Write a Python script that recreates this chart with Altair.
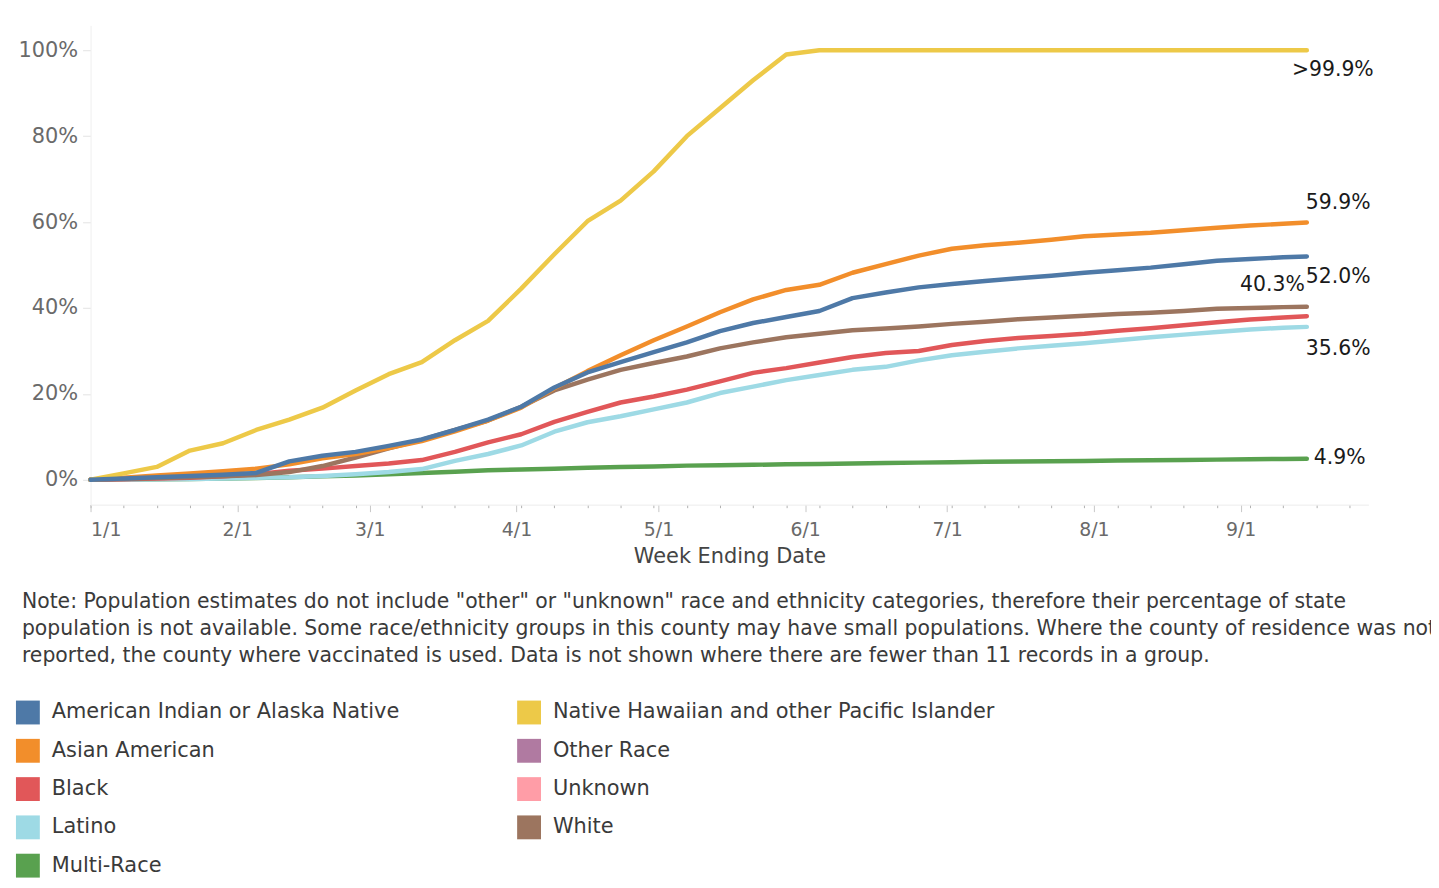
import altair as alt
import pandas as pd

# ---------------- data ----------------
dates = [
    "2021-01-01", "2021-01-08", "2021-01-15", "2021-01-22", "2021-01-29",
    "2021-02-05", "2021-02-12", "2021-02-19", "2021-02-26",
    "2021-03-05", "2021-03-12", "2021-03-19", "2021-03-26",
    "2021-04-02", "2021-04-09", "2021-04-16", "2021-04-23", "2021-04-30",
    "2021-05-07", "2021-05-14", "2021-05-21", "2021-05-28",
    "2021-06-04", "2021-06-11", "2021-06-18", "2021-06-25",
    "2021-07-02", "2021-07-09", "2021-07-16", "2021-07-23", "2021-07-30",
    "2021-08-06", "2021-08-13", "2021-08-20", "2021-08-27",
    "2021-09-03", "2021-09-10", "2021-09-15",
]

aian = [0, 0.3, 0.6, 0.9, 1.2, 1.6, 4.3, 5.6, 6.5, 7.9, 9.4, 11.6, 14.0, 17.0,
        21.5, 25.0, 27.4, 29.7, 32.0, 34.6, 36.5, 37.9, 39.3, 42.3, 43.6, 44.8,
        45.6, 46.3, 46.9, 47.5, 48.2, 48.8, 49.4, 50.2, 51.0, 51.4, 51.8, 52.0]
asian = [0, 0.5, 1.0, 1.5, 2.0, 2.6, 3.6, 5.0, 6.0, 7.4, 9.0, 11.3, 13.8, 16.8,
         21.3, 25.3, 29.0, 32.5, 35.7, 39.0, 42.0, 44.2, 45.4, 48.2, 50.2, 52.2,
         53.8, 54.6, 55.2, 55.9, 56.7, 57.1, 57.5, 58.1, 58.7, 59.2, 59.6, 59.9]
black = [0, 0.1, 0.3, 0.5, 0.8, 1.3, 2.1, 2.6, 3.2, 3.8, 4.6, 6.5, 8.7, 10.6,
         13.5, 15.8, 18.0, 19.4, 21.0, 22.9, 24.9, 26.0, 27.3, 28.6, 29.5, 30.0,
         31.4, 32.3, 33.0, 33.5, 34.0, 34.7, 35.3, 36.0, 36.7, 37.3, 37.8, 38.1]
latino = [0, 0.0, 0.1, 0.2, 0.3, 0.5, 0.6, 0.9, 1.3, 1.8, 2.5, 4.4, 6.0, 8.0,
          11.2, 13.4, 14.8, 16.4, 18.0, 20.2, 21.7, 23.2, 24.4, 25.6, 26.3, 27.8,
          29.0, 29.8, 30.6, 31.2, 31.8, 32.5, 33.2, 33.8, 34.4, 35.0, 35.4, 35.6]
multi = [0, 0.05, 0.1, 0.2, 0.3, 0.4, 0.6, 0.8, 1.0, 1.3, 1.6, 1.9, 2.2, 2.4,
         2.6, 2.8, 3.0, 3.1, 3.3, 3.4, 3.5, 3.6, 3.7, 3.8, 3.9, 4.0, 4.1, 4.2,
         4.25, 4.3, 4.4, 4.5, 4.55, 4.6, 4.7, 4.8, 4.85, 4.9]
nhpi = [0, 1.5, 3.0, 6.8, 8.5, 11.6, 14.0, 16.8, 20.8, 24.6, 27.4, 32.5, 37.0,
        44.5, 52.5, 60.2, 65.0, 71.8, 80.0, 86.5, 93.0, 99.0, 100, 100, 100, 100,
        100, 100, 100, 100, 100, 100, 100, 100, 100, 100, 100, 100]
white = [0, 0.2, 0.4, 0.6, 0.8, 1.1, 1.8, 3.2, 5.2, 7.3, 9.3, 11.6, 13.8, 17.0,
         20.8, 23.3, 25.6, 27.2, 28.7, 30.6, 32.0, 33.2, 34.0, 34.8, 35.2, 35.7,
         36.3, 36.8, 37.4, 37.8, 38.2, 38.6, 38.9, 39.3, 39.8, 40.0, 40.2, 40.3]

# legend order (filled column by column)
legend_domain = [
    "American Indian or Alaska Native", "Asian American", "Black", "Latino", "Multi-Race",
    "Native Hawaiian and other Pacific Islander", "Other Race", "Unknown", "White",
]
legend_colors = [
    "#4e79a7", "#f28e2b", "#e15759", "#9edae5", "#59a14f",
    "#edc948", "#b07aa1", "#ff9da7", "#9c755f",
]

# drawing order (last on top)
series = [
    ("Multi-Race", multi),
    ("Latino", latino),
    ("Black", black),
    ("White", white),
    ("Asian American", asian),
    ("Native Hawaiian and other Pacific Islander", nhpi),
    ("American Indian or Alaska Native", aian),
]

end_label_series = ["Native Hawaiian and other Pacific Islander", "Asian American",
                    "American Indian or Alaska Native", "White", "Latino", "Multi-Race"]
end_label_text = [">99.9%", "59.9%", "52.0%", "40.3%", "35.6%", "4.9%"]

note_lines = [
    'Note: Population estimates do not include "other" or "unknown" race and ethnicity categories, therefore their percentage of state',
    "population is not available. Some race/ethnicity groups in this county may have small populations. Where the county of residence was not",
    "reported, the county where vaccinated is used. Data is not shown where there are fewer than 11 records in a group.",
]

month_ticks = ["2021-01-01", "2021-02-01", "2021-03-01", "2021-04-01", "2021-05-01",
               "2021-06-01", "2021-07-01", "2021-08-01", "2021-09-01"]

# ---------------- build tables ----------------
rows = []
for name, vals in series:
    for d, v in zip(dates, vals):
        rows.append({"series": name, "date": d, "pct": v})
df = pd.DataFrame(rows)
df["date"] = pd.to_datetime(df["date"])

end_df = pd.DataFrame({
    "series": end_label_series,
    "label": end_label_text,
})
last = df[df["date"] == df["date"].max()][["series", "date", "pct"]]
end_df = end_df.merge(last, on="series")


def dt(s):
    t = pd.Timestamp(s)
    return alt.DateTime(year=t.year, month=t.month, date=t.day)


week_ticks = [dt(t) for t in pd.date_range("2021-01-01", "2021-09-28", freq="7D")]

# ---------------- styling ----------------
FONT = "DejaVu Sans"
W, H = 1285, 482
x_scale = alt.Scale(domain=[dt("2021-01-01"), dt("2021-09-28")])
y_scale = alt.Scale(domain=[-5.79, 105.79], nice=False, zero=False)

color_of = dict(zip(legend_domain, legend_colors))
line_names = [name for name, _ in series]
line_color_scale = alt.Scale(domain=line_names, range=[color_of[n] for n in line_names])
legend_scale = alt.Scale(domain=legend_domain, range=legend_colors)

y_axis = alt.Axis(
    values=[0, 20, 40, 60, 80, 100], labelExpr="datum.value + '%'",
    tickSize=8, tickColor="#e3e3e3", domainColor="#efefef", grid=False,
    labelFontSize=21, labelColor="#6a6a6a", labelPadding=5, title=None, labelFont=FONT,
)
y_enc = alt.Y("pct:Q", scale=y_scale, axis=y_axis)

x_main = alt.X(
    "date:T", scale=x_scale,
    axis=alt.Axis(
        orient="bottom", values=[dt(m) for m in month_ticks], format="%-m/%-d",
        labelFlush=True, tickSize=7, tickColor="#c8c8c8", domainColor="#ececec",
        labelFontSize=19, labelColor="#6a6a6a", labelPadding=9, grid=False, labelFont=FONT,
        title="Week Ending Date", titleFontSize=21, titleFontWeight="normal", titleFont=FONT,
        titleColor="#444444", titlePadding=6,
    ),
)

lines = alt.Chart(df).mark_line(strokeWidth=4.5, strokeJoin="round", strokeCap="round").encode(
    x=x_main,
    y=y_enc,
    color=alt.Color("series:N", scale=line_color_scale, legend=None),
    detail="series:N",
)

minor_axis = alt.Chart(df).mark_line(opacity=0).encode(
    x=alt.X("date:T", scale=x_scale,
            axis=alt.Axis(orient="bottom", values=week_ticks, labels=False, tickSize=3,
                          tickColor="#b0b0b0", domain=False, grid=False, title=None)),
    y=y_enc,
    detail="series:N",
)

legend_layer = alt.Chart(pd.DataFrame({"series": legend_domain})).mark_square(
    size=576, opacity=0
).encode(
    fill=alt.Fill(
        "series:N", scale=legend_scale,
        legend=alt.Legend(
            orient="none", legendX=-75, legendY=679, columns=2, title=None,
            symbolType="square", symbolSize=576, symbolStrokeWidth=0, symbolOpacity=1,
            labelFontSize=21, labelColor="#3a3a3a", labelFont=FONT, labelLimit=700,
            labelOffset=12, rowPadding=14.5, columnPadding=118, padding=0,
        ),
    ),
)

# end-of-line labels: (align, dx, dy) per label
label_style = [("left", -15, 20), ("left", -1, -20), ("left", -1, 21),
               ("right", -2, -22), ("left", -1, 22), ("left", 7, -1)]
label_layers = []
for (name, txt), (align, dx, dy) in zip(zip(end_label_series, end_label_text), label_style):
    label_layers.append(
        alt.Chart(end_df[end_df["series"] == name]).mark_text(
            align=align, baseline="middle", dx=dx, dy=dy, fontSize=20.5, color="#1a1a1a", font=FONT,
        ).encode(
            x=alt.X("date:T", scale=x_scale, axis=None),
            y=y_enc,
            text="label:N",
        )
    )

note = alt.Chart(alt.Data(values=[{}])).mark_text(
    align="left", baseline="top", fontSize=20.5, lineHeight=27, color="#3a3a3a", font=FONT,
).encode(
    x=alt.value(-69),
    y=alt.value(570),
    text=alt.value(note_lines),
)

chart = alt.layer(
    minor_axis, lines, *label_layers, legend_layer, note
).resolve_axis(
    x="independent"
).properties(
    width=W, height=H,
    padding={"left": 83, "top": 15, "right": 63, "bottom": 383},
    autosize=alt.AutoSizeParams(type="none"),
    background="white",
).configure(
    font=FONT,
).configure_view(
    stroke=None,
)

chart.save("out.html", embed_options={"renderer": "svg", "actions": False})
